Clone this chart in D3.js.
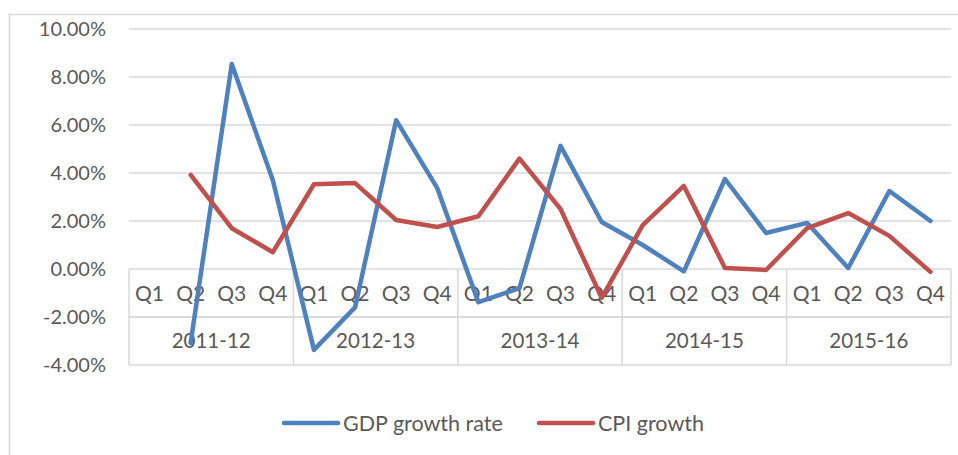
<!DOCTYPE html>
<html>
<head>
<meta charset="utf-8">
<script src="https://cdn.jsdelivr.net/npm/d3@7"></script>
<style>
  html, body { margin: 0; padding: 0; background: #fff; }
  svg { display: block; font-family: Lato, "Open Sans", sans-serif; }
</style>
</head>
<body>
<svg id="chart" width="958" height="455"></svg>
<script>
const years = ["2011-12", "2012-13", "2013-14", "2014-15", "2015-16"];
const quarters = ["Q1", "Q2", "Q3", "Q4"];
const gdpGrowth = [null, -3.08, 8.54, 3.7, -3.37, -1.6, 6.2, 3.37, -1.38, -0.8, 5.13, 1.96, 1.0, -0.1, 3.75, 1.5, 1.92, 0.04, 3.25, 2.0];
const cpiGrowth = [null, 3.92, 1.7, 0.7, 3.53, 3.58, 2.04, 1.75, 2.2, 4.6, 2.5, -1.2, 1.83, 3.46, 0.04, -0.04, 1.7, 2.33, 1.38, -0.12];
const yTicks = [-4, -2, 0, 2, 4, 6, 8, 10];
const seriesNames = ["GDP growth rate", "CPI growth"];
const seriesColors = ["#4f81bd", "#c0504d"];

(function () {
const svg = d3.select("#chart");
const pLeft = 129, pRight = 951, pTop = 29, pBottom = 365;

// chart frame
svg.append("rect").attr("x", 9.5).attr("y", 14.5).attr("width", 960).attr("height", 460)
  .attr("fill", "none").attr("stroke", "#d9d9d9").attr("stroke-width", 1.5);

const cats = [];
years.forEach(yr => quarters.forEach(q => cats.push(yr + "|" + q)));

const x = d3.scaleBand().domain(cats).range([pLeft, pRight]).padding(0);
const y = d3.scaleLinear().domain([-4, 10]).range([pBottom, pTop]);

// gridlines
svg.append("g").selectAll("line").data(yTicks).join("line")
  .attr("x1", pLeft).attr("x2", pRight)
  .attr("y1", d => y(d)).attr("y2", d => y(d))
  .attr("stroke", "#d9d9d9").attr("stroke-width", 1.5);

// y axis labels
const fmt = d => d.toFixed(2) + "%";
svg.append("g").selectAll("text").data(yTicks).join("text")
  .attr("x", 106).attr("y", d => y(d))
  .attr("dy", "0.36em").attr("text-anchor", "end")
  .attr("font-size", 20).attr("fill", "#595959")
  .text(fmt);

// category axis table (at y=0)
const y0 = y(0);
const rowMid = 317;
const axisG = svg.append("g");
axisG.append("line").attr("x1", pLeft).attr("x2", pRight).attr("y1", rowMid).attr("y2", rowMid)
  .attr("stroke", "#d9d9d9").attr("stroke-width", 1.5);
const bounds = years.map(yr => x(yr + "|Q1")).concat([pRight]);
axisG.selectAll("line.sep").data(bounds).join("line").attr("class", "sep")
  .attr("x1", d => d).attr("x2", d => d).attr("y1", y0).attr("y2", pBottom)
  .attr("stroke", "#d9d9d9").attr("stroke-width", 1.5);
axisG.selectAll("text.q").data(cats).join("text").attr("class", "q")
  .attr("x", d => x(d) + x.bandwidth() / 2).attr("y", (y0 + rowMid) / 2)
  .attr("dy", "0.36em").attr("text-anchor", "middle")
  .attr("font-size", 21).attr("fill", "#595959")
  .text(d => d.split("|")[1]);
axisG.selectAll("text.yr").data(years).join("text").attr("class", "yr")
  .attr("x", d => x(d + "|Q1") + x.bandwidth() * 2).attr("y", (rowMid + pBottom) / 2)
  .attr("dy", "0.36em").attr("text-anchor", "middle")
  .attr("font-size", 20.5).attr("fill", "#595959")
  .text(d => d);

// lines
const line = d3.line()
  .defined(d => d.v !== null)
  .x(d => x(d.c) + x.bandwidth() / 2)
  .y(d => y(d.v));
[gdpGrowth, cpiGrowth].forEach((vals, i) => {
  const data = cats.map((c, k) => ({ c, v: vals[k] }));
  svg.append("path").datum(data).attr("d", line)
    .attr("fill", "none").attr("stroke", seriesColors[i]).attr("stroke-width", 4.5)
    .attr("stroke-linejoin", "round").attr("stroke-linecap", "round");
});

// legend
const legendItems = [
  { name: seriesNames[0], color: seriesColors[0], x: 284 },
  { name: seriesNames[1], color: seriesColors[1], x: 539 }
];
const lg = svg.append("g");
legendItems.forEach(it => {
  lg.append("line").attr("x1", it.x).attr("x2", it.x + 54).attr("y1", 423).attr("y2", 423)
    .attr("stroke", it.color).attr("stroke-width", 4.5).attr("stroke-linecap", "round");
  lg.append("text").attr("x", it.x + 59).attr("y", 423).attr("dy", "0.36em")
    .attr("font-size", 21.5).attr("fill", "#595959").text(it.name);
});
})();
</script>
</body>
</html>
